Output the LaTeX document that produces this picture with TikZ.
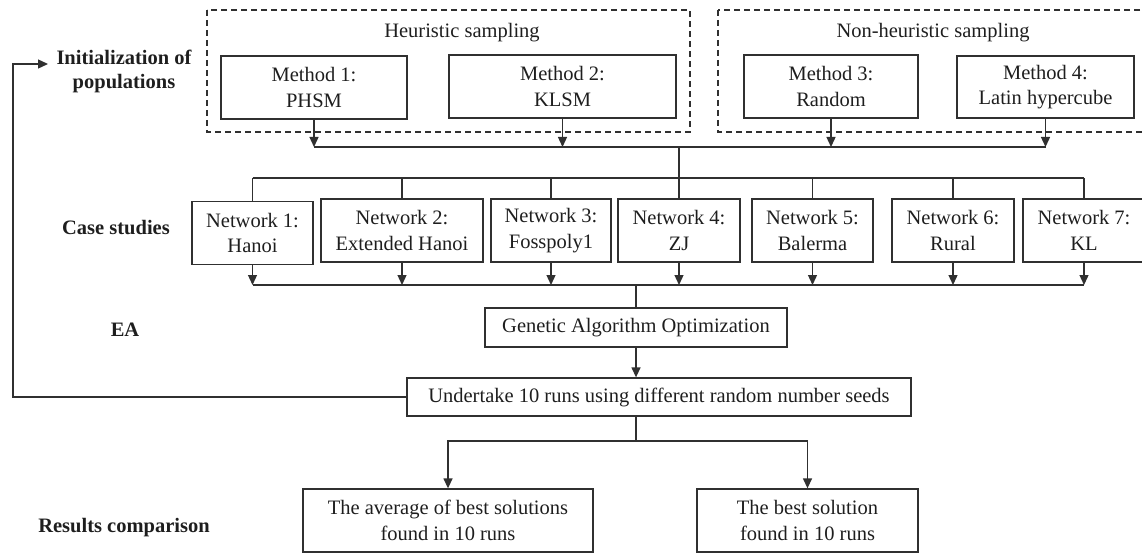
\documentclass[tikz,border=0pt]{standalone}
\usepackage{fontspec}
\setmainfont{Liberation Serif}
\usetikzlibrary{arrows.meta}
\definecolor{ink}{HTML}{1E1E1E}
\definecolor{rule}{HTML}{303030}
\begin{document}
\begin{tikzpicture}[x=1pt,y=-1pt,
  font=\fontsize{20.5}{25.5}\selectfont, text=ink,
  box/.style={draw=rule, line width=1.3pt, align=center, inner sep=0pt},
  link/.style={draw=rule, line width=1.3pt},
  arr/.style={link, -{Triangle[length=10pt,width=9pt]}},
  samplegroup/.style={draw=rule, line width=1.6pt, dash pattern=on 6pt off 4pt},
  rowlabel/.style={font=\fontsize{20.5}{24}\selectfont\bfseries, align=center},
  grouptitle/.style={align=center}]
\useasboundingbox (0,0) rectangle (1142,553);
\clip (0,0) rectangle (1142,553);

% sampling groups
\draw[samplegroup] (207,10) rectangle (690,132);
\draw[samplegroup] (718,10) rectangle (1152,132);
\node[grouptitle] (heur) at (462,33) {Heuristic sampling};
\node[grouptitle] (nonheur) at (933,33) {Non-heuristic sampling};

% row labels
\node[rowlabel] (init) at (124,71) {Initialization of\\populations};
\node[rowlabel] (cases) at (116,228) {Case studies};
\node[rowlabel] (ea) at (125,330) {EA};
\node[rowlabel] (results) at (124,528) {Results comparison};

% initialization methods
\node[box, minimum width=186pt, minimum height=63pt] (m1) at (314,87.5) {Method 1:\\PHSM};
\node[box, minimum width=227pt, minimum height=63pt] (m2) at (562.5,86.5) {Method 2:\\KLSM};
\node[box, minimum width=174pt, minimum height=63pt] (m3) at (831,86.5) {Method 3:\\Random};
\node[box, minimum width=177pt, minimum height=62pt] (m4) at (1045.5,87) {Method 4:\\Latin hypercube};

% case-study networks
\node[box, minimum width=121pt, minimum height=63pt] (n1) at (252.5,233) {Network 1:\\Hanoi};
\node[box, minimum width=162pt, minimum height=63pt] (n2) at (402,230.5) {Network 2:\\Extended Hanoi};
\node[box, minimum width=120pt, minimum height=63pt] (n3) at (551,230.5) {Network 3:\\Fosspoly1};
\node[box, minimum width=122pt, minimum height=63pt] (n4) at (679,230.5) {Network 4:\\ZJ};
\node[box, minimum width=121pt, minimum height=63pt] (n5) at (812.5,230.5) {Network 5:\\Balerma};
\node[box, minimum width=122pt, minimum height=63pt] (n6) at (953,230.5) {Network 6:\\Rural};
\node[box, minimum width=122pt, minimum height=63pt] (n7) at (1084,230.5) {Network 7:\\KL};

% optimisation and runs
\node[box, minimum width=302pt, minimum height=39pt] (ga) at (636,327.5) {Genetic Algorithm Optimization};
\node[box, minimum width=504pt, minimum height=38pt] (ut) at (659,397) {Undertake 10 runs using different random number seeds};

% results
\node[box, minimum width=290pt, minimum height=63pt] (avg) at (448,520.5) {The average of best solutions\\found in 10 runs};
\node[box, minimum width=221pt, minimum height=63pt] (best) at (807.5,520.5) {The best solution\\found in 10 runs};

% junction points
\coordinate (top) at (679,147);
\coordinate (fan) at (679,178);
\coordinate (low) at (636,285);
\coordinate (split) at (636,441);
\coordinate (fb) at (13,397);
\coordinate (initin) at (48,64);

% methods feed the case studies
\foreach \m in {m1,m2,m3,m4} \draw[arr] (\m.south) -- (\m.south |- top);
\draw[link] (m1.south |- top) -- (m4.south |- top);
\draw[link] (top) -- (fan);
\draw[link] (n1.north |- fan) -- (n7.north |- fan);
\foreach \n in {n1,n2,n3,n4,n5,n6,n7} \draw[link] (\n.north |- fan) -- (\n.north);

% case studies feed the GA
\foreach \n in {n1,n2,n3,n4,n5,n6,n7} \draw[arr] (\n.south) -- (\n.south |- low);
\draw[link] (n1.south |- low) -- (n7.south |- low);
\draw[link] (low) -- (ga.north);
\draw[arr] (ga.south) -- (ga.south |- ut.north);

% feedback loop to initialization
\draw[arr] (ut.west) -- (fb) |- (initin);

% results branches
\draw[link] (ga.south |- ut.south) -- (split);
\draw[arr] (split) -| (avg.north);
\draw[arr] (split) -| (best.north);
\end{tikzpicture}
\end{document}
